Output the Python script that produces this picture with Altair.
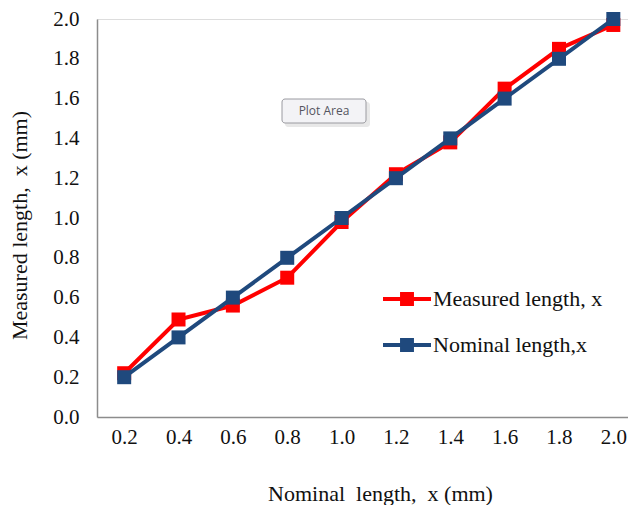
import altair as alt
import pandas as pd

nominal_x = [0.2, 0.4, 0.6, 0.8, 1.0, 1.2, 1.4, 1.6, 1.8, 2.0]
measured = [0.22, 0.49, 0.56, 0.70, 0.98, 1.22, 1.38, 1.65, 1.85, 1.97]
nominal = [0.2, 0.4, 0.6, 0.8, 1.0, 1.2, 1.4, 1.6, 1.8, 2.0]
series_names = ["Measured length, x", "Nominal length,x"]
series_colors = ["#FF0000", "#1F497D"]
y_ticks = [0.0, 0.2, 0.4, 0.6, 0.8, 1.0, 1.2, 1.4, 1.6, 1.8, 2.0]

df = pd.DataFrame({
    "x": nominal_x + nominal_x,
    "y": measured + nominal,
    "series": [series_names[0]] * len(nominal_x) + [series_names[1]] * len(nominal_x),
})

FONT = "Liberation Serif"
W, H = 531, 398

xenc = alt.X("x:Q", scale=alt.Scale(domain=[0.1, 2.054], nice=False, zero=False),
             axis=alt.Axis(values=nominal_x, format=".1f", ticks=False, grid=False,
                           domainColor="#8c8c8c", domainWidth=1.5,
                           labelFont=FONT, labelFontSize=21, labelColor="#111",
                           labelPadding=9, labelFlush=False,
                           title="Nominal\u00a0 length,\u00a0 x (mm)", titleFont=FONT,
                           titleFontSize=22, titleFontWeight="normal", titleColor="#111",
                           titleX=283, titleY=76, titleBaseline="middle", titleAnchor="middle"))
yenc = alt.Y("y:Q", scale=alt.Scale(domain=[0, 2.0], nice=False),
             axis=alt.Axis(values=y_ticks, format=".1f", ticks=False, grid=False,
                           domainColor="#8c8c8c", domainWidth=1.5,
                           labelFont=FONT, labelFontSize=21, labelColor="#111",
                           labelPadding=18, labelFlush=False,
                           title="Measured length,\u00a0 x (mm)", titleFont=FONT,
                           titleFontSize=22, titleFontWeight="normal", titleColor="#111",
                           titleAngle=270, titleX=-78, titleY=206,
                           titleAlign="center", titleBaseline="middle"))

color_scale = alt.Scale(domain=series_names, range=series_colors)
legend = alt.Legend(
    title=None, orient="none", legendX=286, legendY=256,
    symbolType="M-1,-0.085H1V0.085H-1Z M-0.29,-0.29H0.29V0.29H-0.29Z",
    symbolSize=2304, symbolStrokeWidth=0, symbolOpacity=1,
    labelFont=FONT, labelFontSize=22, labelColor="#111", labelOffset=2,
    rowPadding=11, labelLimit=400,
)

base = alt.Chart(df).encode(x=xenc, y=yenc)

layers = []
for i, name in enumerate(series_names):
    sub = base.transform_filter(alt.datum.series == name)
    line = sub.mark_line(strokeWidth=4).encode(
        color=alt.Color("series:N", scale=color_scale, legend=legend))
    pts = sub.mark_square(size=196, opacity=1).encode(
        color=alt.Color("series:N", scale=color_scale, legend=legend))
    layers += [line, pts]

tip = pd.DataFrame({"t": ["Plot Area"]})
tip_shadow = alt.Chart(tip).mark_rect(cornerRadius=3, fill="#d8d8d8", opacity=0.6).encode(
    x=alt.value(188), x2=alt.value(273), y=alt.value(83), y2=alt.value(108))
tip_box = alt.Chart(tip).mark_rect(cornerRadius=3, fill="#f3f3f6", stroke="#9a9aa0",
                                   strokeWidth=1).encode(
    x=alt.value(185), x2=alt.value(269), y=alt.value(80), y2=alt.value(104))
tip_text = alt.Chart(tip).mark_text(font="Open Sans", fontSize=12, color="#555560",
                                    align="center", baseline="middle").encode(
    x=alt.value(227), y=alt.value(92), text="t:N")

chart = alt.layer(*layers, tip_shadow, tip_box, tip_text).properties(
    width=W, height=H,
    padding={"left": 89, "top": 11, "right": 0, "bottom": 88},
    autosize=alt.AutoSizeParams(type="none"),
).configure_view(stroke=None).configure(background="white")

chart.save("out.html", embed_options={"renderer": "svg", "actions": False})
